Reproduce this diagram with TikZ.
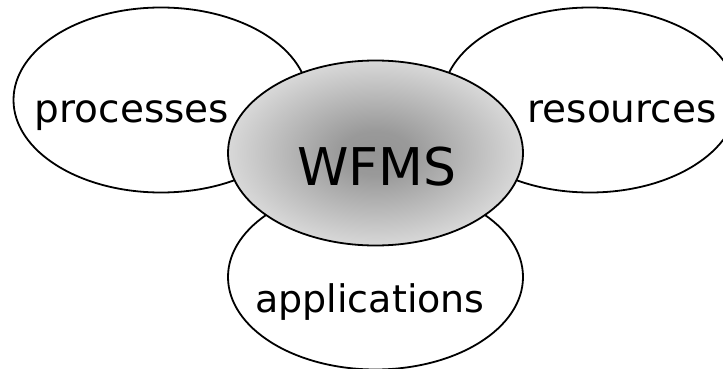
\documentclass[tikz,border=0pt]{standalone}
\usepackage{fontspec}
\setmainfont{DejaVu Sans}
\usetikzlibrary{shapes.geometric}

\definecolor{shadeinner}{gray}{0.58}
\definecolor{shadeouter}{gray}{0.86}
\pgfdeclareradialshading{wfmsshade}{\pgfpoint{0bp}{0bp}}{%
  color(0bp)=(shadeinner); color(6bp)=(shadeinner!92!shadeouter);
  color(26bp)=(shadeouter); color(50bp)=(shadeouter)}

\tikzset{
  blob/.style={ellipse, draw=black, line width=1.8pt, inner sep=0pt,
    minimum width=295pt, minimum height=185pt, fill=white},
  core/.style={blob, shading=wfmsshade},
  word/.style={anchor=base, inner sep=0pt, font=\fontsize{39}{44}\selectfont},
}

\begin{document}
\begin{tikzpicture}[x=1pt, y=-1pt]
  \useasboundingbox (0,0) rectangle (723,369);

  % three surrounding areas
  \node[blob] (proc) at (161,100) {};
  \node[blob] (res)  at (590,100) {};
  \node[blob] (app)  at (375.5,277) {};

  % the management system in the middle, drawn on top
  \node[core] (wfms) at (375.5,153) {};

  % labels
  \node[word] (proclbl) at (132,122) {processes};
  \node[word] (reslbl)  at (622,122) {resources};
  \node[word, font=\fontsize{38}{44}\selectfont] (applbl) at (370,312) {applications};
  \node[word, font=\fontsize{52}{60}\selectfont] (wfmslbl) at (377,185) {WFMS};
\end{tikzpicture}
\end{document}
